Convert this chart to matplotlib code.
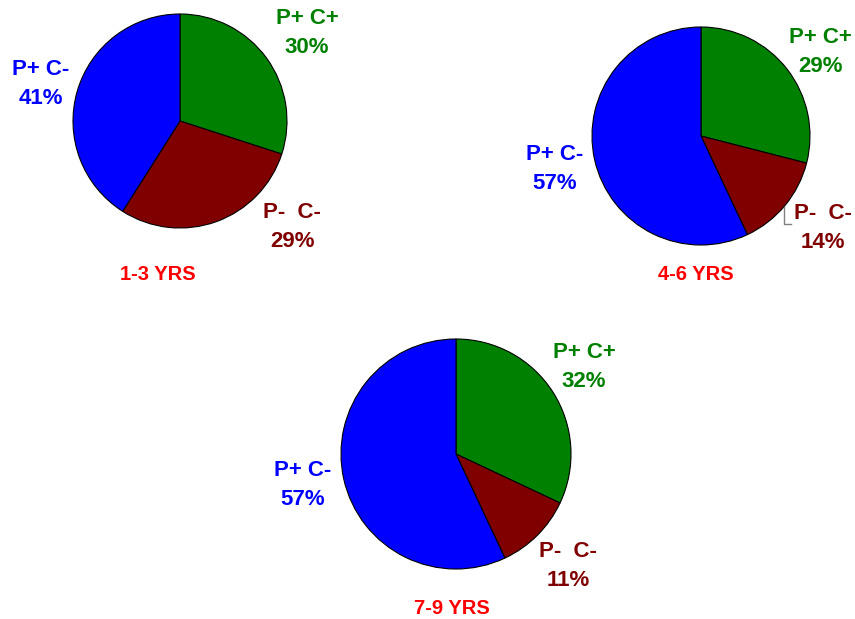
import matplotlib
matplotlib.use("Agg")
import matplotlib.pyplot as plt

plt.rcParams['font.family'] = ['Liberation Sans', 'DejaVu Sans']

# shares per age group, clockwise from 12 o'clock: P+ C+, P- C-, P+ C-
groups = ['1-3 YRS', '4-6 YRS', '7-9 YRS']
pos_pos = [30, 29, 32]
neg_neg = [29, 14, 11]
pos_neg = [41, 57, 57]
slice_names = ['P+ C+', 'P-  C-', 'P+ C-']
colors = ['#008000', '#800000', '#0000FF']

W, H = 855, 619
# pie geometry in pixel units (x, y from top)
centers = [(180, 121), (701, 136), (456, 454)]
radii = [107, 109, 115]
# label anchors (slice order) and title anchors
label_xy = [
    [(307, 33), (292, 227), (41, 84)],
    [(820, 52), (823, 228), (555, 169)],
    [(584, 367), (568, 566), (303, 485)],
]
title_xy = [(158, 275), (696, 275), (452, 608)]

fig = plt.figure(figsize=(W / 100, H / 100), dpi=100)
ax = fig.add_axes([0, 0, 1, 1])

for i in range(3):
    vals = [pos_pos[i], neg_neg[i], pos_neg[i]]
    cx, cy = centers[i]
    ax.pie(vals, colors=colors, startangle=90, counterclock=False,
           center=(cx, H - cy), radius=radii[i],
           wedgeprops=dict(edgecolor='black', linewidth=0.8))
    for j in range(3):
        lx, ly = label_xy[i][j]
        ax.text(lx, H - ly, f'{slice_names[j]}\n{vals[j]}%', color=colors[j],
                fontsize=16, fontweight='bold', ha='center', va='center',
                linespacing=1.45)
    tx, ty = title_xy[i]
    ax.text(tx, H - ty, groups[i], color='#FF0000', fontsize=14.5,
            fontweight='bold', ha='center', va='center')

# leader bracket for the small slice of the 4-6 group
ax.plot([784, 784, 791], [H - 207, H - 224, H - 224], color='#808080', lw=1)

ax.set_xlim(0, W)
ax.set_ylim(0, H)
ax.set_aspect('auto')
ax.axis('off')

fig.savefig('out.png', dpi=100)
